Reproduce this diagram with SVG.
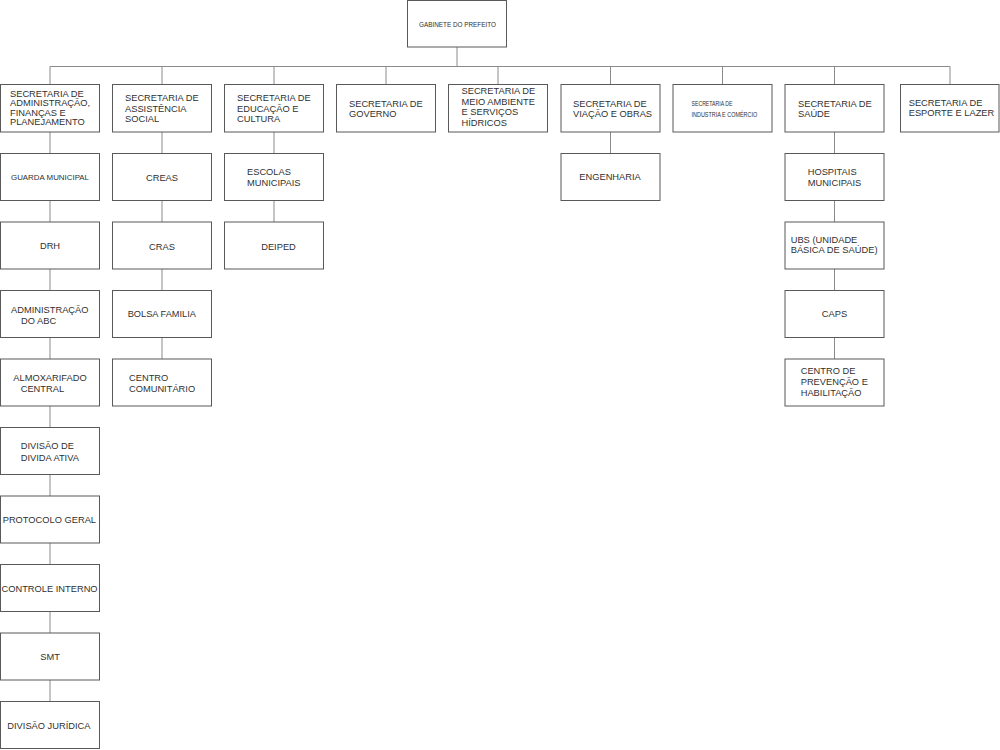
<svg xmlns="http://www.w3.org/2000/svg" width="1000" height="750" viewBox="0 0 1000 750">
<style>
.b{fill:#fff;stroke:#595959;stroke-width:1}
.t{font-family:"Liberation Sans",Arial,sans-serif;font-size:9.3px;fill:#303030}
.m{text-anchor:middle}
.s{font-size:7.8px}
.x{font-size:6.4px}
.c{fill:none;stroke:#8a8a8a;stroke-width:1}
</style>
<rect width="1000" height="750" fill="#fff"/>
<g id="connectors" class="c">
<path d="M457 47V66.5M50 66.5H950M50 66.5V84.5M162 66.5V84.5M274 66.5V84.5M386 66.5V84.5M498 66.5V84.5M610.5 66.5V84.5M722.5 66.5V84.5M834.5 66.5V84.5M950 66.5V84.5"/>
<path d="M50 132V153.5M50 200.5V222M50 269V290.5M50 337.5V359M50 406V427.5M50 474.5V496M50 543V564.5M50 611.5V633M50 680V701.5"/>
<path d="M162 132V153.5M162 200.5V222M162 269V290.5M162 337.5V359"/>
<path d="M274 132V153.5M274 200.5V222"/>
<path d="M610.5 132V153.5"/>
<path d="M834.5 132V153.5M834.5 200.5V222M834.5 269V290.5M834.5 337.5V359"/>
</g>
<g id="gabinete"><rect class="b" x="407.5" y="0.5" width="99" height="46.5"/><text class="t" x="419" y="26.5" textLength="77" lengthAdjust="spacingAndGlyphs" style="font-size:7px">GABINETE DO PREFEITO</text></g>
<g id="sec-adm"><rect class="b" x="0.5" y="84.5" width="99" height="47.5"/><text class="t" x="10" y="96.5">SECRETARIA DE</text><text class="t" x="10" y="106">ADMINISTRAÇÃO,</text><text class="t" x="10" y="115.5">FINANÇAS E</text><text class="t" x="10" y="125">PLANEJAMENTO</text></g>
<g id="sec-assist"><rect class="b" x="112.5" y="84.5" width="99" height="47.5"/><text class="t" x="125" y="101">SECRETARIA DE</text><text class="t" x="125" y="111.5">ASSISTÊNCIA</text><text class="t" x="125" y="122">SOCIAL</text></g>
<g id="sec-educ"><rect class="b" x="224.5" y="84.5" width="99" height="47.5"/><text class="t" x="237" y="101">SECRETARIA DE</text><text class="t" x="237" y="111.5">EDUCAÇÃO E</text><text class="t" x="237" y="122">CULTURA</text></g>
<g id="sec-gov"><rect class="b" x="336.5" y="84.5" width="99" height="47.5"/><text class="t" x="349" y="106.5">SECRETARIA DE</text><text class="t" x="349" y="116.5">GOVERNO</text></g>
<g id="sec-meio"><rect class="b" x="448.5" y="84.5" width="99" height="47.5"/><text class="t" x="461.5" y="94">SECRETARIA DE</text><text class="t" x="461.5" y="104.5">MEIO AMBIENTE</text><text class="t" x="461.5" y="115">E SERVIÇOS</text><text class="t" x="461.5" y="125.5">HÍDRICOS</text></g>
<g id="sec-viacao"><rect class="b" x="561" y="84.5" width="99" height="47.5"/><text class="t" x="573" y="106.5">SECRETARIA DE</text><text class="t" x="573" y="116.5">VIAÇÃO E OBRAS</text></g>
<g id="sec-industria"><rect class="b" x="673" y="84.5" width="99" height="47.5"/><text class="t x" x="691.5" y="105.5" textLength="41" lengthAdjust="spacingAndGlyphs">SECRETARIA DE</text><text class="t x" x="691.5" y="116.5" textLength="65.7" lengthAdjust="spacingAndGlyphs">INDUSTRIA E COMÉRCIO</text></g>
<g id="sec-saude"><rect class="b" x="785" y="84.5" width="99" height="47.5"/><text class="t" x="798" y="106.5">SECRETARIA DE</text><text class="t" x="798" y="116.5">SAÚDE</text></g>
<g id="sec-esporte"><rect class="b" x="900.5" y="84.5" width="98.5" height="47.5"/><text class="t" x="908.7" y="105.5">SECRETARIA DE</text><text class="t" x="908.7" y="115.5">ESPORTE E LAZER</text></g>
<g id="guarda"><rect class="b" x="0.5" y="153.5" width="99" height="47"/><text class="t s" x="11" y="180" textLength="78" lengthAdjust="spacingAndGlyphs">GUARDA MUNICIPAL</text></g>
<g id="drh"><rect class="b" x="0.5" y="222" width="99" height="47"/><text class="t m" x="50" y="249">DRH</text></g>
<g id="adm-abc"><rect class="b" x="0.5" y="290.5" width="99" height="47"/><text class="t" x="11" y="312.5">ADMINISTRAÇÃO</text><text class="t" x="21" y="323.5">DO ABC</text></g>
<g id="almox"><rect class="b" x="0.5" y="359" width="99" height="47"/><text class="t" x="13.3" y="381">ALMOXARIFADO</text><text class="t" x="20.7" y="391.5">CENTRAL</text></g>
<g id="divida"><rect class="b" x="0.5" y="427.5" width="99" height="47"/><text class="t" x="20.7" y="449">DIVISÃO DE</text><text class="t" x="20.7" y="460.5" textLength="58.3" lengthAdjust="spacingAndGlyphs">DIVIDA ATIVA</text></g>
<g id="protocolo"><rect class="b" x="0.5" y="496" width="99" height="47"/><text class="t" x="2.7" y="522.5">PROTOCOLO GERAL</text></g>
<g id="controle"><rect class="b" x="0.5" y="564.5" width="99" height="47"/><text class="t" x="1.5" y="591.5">CONTROLE INTERNO</text></g>
<g id="smt"><rect class="b" x="0.5" y="633" width="99" height="47"/><text class="t m" x="50" y="660">SMT</text></g>
<g id="juridica"><rect class="b" x="0.5" y="701.5" width="99" height="47"/><text class="t" x="7.3" y="729">DIVISÃO JURÍDICA</text></g>
<g id="creas"><rect class="b" x="112.5" y="153.5" width="99" height="47"/><text class="t m" x="162" y="180.5">CREAS</text></g>
<g id="cras"><rect class="b" x="112.5" y="222" width="99" height="47"/><text class="t m" x="162" y="249.5">CRAS</text></g>
<g id="bolsa"><rect class="b" x="112.5" y="290.5" width="99" height="47"/><text class="t" x="127.7" y="317" textLength="68.3" lengthAdjust="spacingAndGlyphs">BOLSA FAMILIA</text></g>
<g id="centro-com"><rect class="b" x="112.5" y="359" width="99" height="47"/><text class="t" x="129" y="381">CENTRO</text><text class="t" x="129" y="391.5">COMUNITÁRIO</text></g>
<g id="escolas"><rect class="b" x="224.5" y="153.5" width="99" height="47"/><text class="t" x="247" y="175">ESCOLAS</text><text class="t" x="247" y="185.5">MUNICIPAIS</text></g>
<g id="deiped"><rect class="b" x="224.5" y="222" width="99" height="47"/><text class="t m" x="278.5" y="249.5">DEIPED</text></g>
<g id="engenharia"><rect class="b" x="561" y="153.5" width="99" height="47"/><text class="t" x="579.3" y="180">ENGENHARIA</text></g>
<g id="hospitais"><rect class="b" x="785" y="153.5" width="99" height="47"/><text class="t" x="807.7" y="175">HOSPITAIS</text><text class="t" x="807.7" y="185.5">MUNICIPAIS</text></g>
<g id="ubs"><rect class="b" x="785" y="222" width="99" height="47"/><text class="t" x="790.7" y="242.5">UBS (UNIDADE</text><text class="t" x="790.7" y="253">BÁSICA DE SAÚDE)</text></g>
<g id="caps"><rect class="b" x="785" y="290.5" width="99" height="47"/><text class="t m" x="834.5" y="317">CAPS</text></g>
<g id="centro-prev"><rect class="b" x="785" y="359" width="99" height="47"/><text class="t" x="800.7" y="374">CENTRO DE</text><text class="t" x="800.7" y="384.5">PREVENÇÃO E</text><text class="t" x="800.7" y="395.5">HABILITAÇÃO</text></g>
</svg>
